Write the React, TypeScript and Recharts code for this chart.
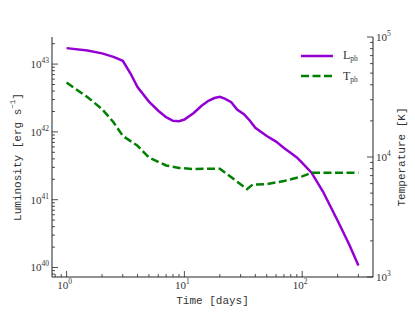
import React from "react";
import { ComposedChart, Line, XAxis, YAxis, Legend } from "recharts";

// photospheric luminosity (erg/s) vs time (days)
const lumDays = [1, 1.5, 2, 2.5, 3, 3.5, 4, 5, 6, 7, 8, 9, 10, 12, 14, 16, 18, 20, 22, 25, 28, 32, 36, 40, 50, 60, 70, 80, 90, 100, 120, 150, 200, 250, 300];
const lumValues = [
  1.72e43, 1.59e43, 1.44e43, 1.28e43, 1.12e43, 7.2e42, 4.6e42, 2.8e42, 2.05e42, 1.65e42, 1.46e42, 1.44e42,
  1.52e42, 1.9e42, 2.43e42, 2.88e42, 3.16e42, 3.3e42, 3.1e42, 2.75e42, 2.14e42, 1.82e42, 1.46e42, 1.15e42,
  8.7e41, 7.2e41, 5.8e41, 4.9e41, 4.2e41, 3.5e41, 2.5e41, 1.32e41, 4.9e40, 2.2e40, 1.07e40,
];

// photospheric temperature (K) vs time (days)
const tempDays = [1, 1.5, 2, 2.5, 3, 4, 5, 6, 7, 9, 12, 16, 20, 34, 38, 50, 70, 100, 120, 300];
const tempValues = [41700, 31600, 25100, 19500, 15000, 12400, 9900, 9100, 8500, 8100, 7940, 8000, 8000, 5400, 5900, 5950, 6300, 6900, 7400, 7400];

const timeDecades = [1, 10, 100];
const lumDecades = [1e40, 1e41, 1e42, 1e43];
const tempDecades = [1e3, 1e4, 1e5];

const timeDomain = [0.752, 399];
const lumDomain = [7.24e39, 2.51e43];
const tempDomain = [1e3, 1e5];

const lumData = lumDays.map((t, i) => ({ t, L: lumValues[i] }));
const tempData = tempDays.map((t, i) => ({ t, T: tempValues[i] }));

const PURPLE = "#9400d3";
const GREEN = "#008000";
const INK = "#222";
const TEXT = "#333";
const SERIF = "'Liberation Serif', 'DejaVu Serif', serif";
const MONO = "'Liberation Mono', 'DejaVu Sans Mono', monospace";

// majors plus 2..9 minors inside the domain
const withMinors = (decades: number[], domain: number[]) => {
  const out: number[] = [];
  const lo = Math.floor(Math.log10(domain[0]));
  const hi = Math.ceil(Math.log10(domain[1]));
  for (let e = lo; e <= hi; e++) {
    for (let m = 1; m < 10; m++) {
      const v = m * Math.pow(10, e);
      if (v >= domain[0] * 0.9999 && v <= domain[1] * 1.0001) out.push(v);
    }
  }
  decades.forEach((d) => {
    if (!out.includes(d)) out.push(d);
  });
  return out.sort((a, b) => a - b);
};

const isMajor = (v: number) => {
  const l = Math.log10(v);
  return Math.abs(l - Math.round(l)) < 1e-6;
};

const Pow = ({ x, y, v, anchor }: any) => (
  <text x={x} y={y} textAnchor={anchor} fontFamily={SERIF} fontSize={11} fill={TEXT}>
    10
    <tspan dy={-5} fontSize={7.5}>
      {Math.round(Math.log10(v))}
    </tspan>
  </text>
);

const BottomTick = ({ x, y, payload }: any) => {
  const major = isMajor(payload.value);
  return (
    <g>
      <line x1={x} x2={x} y1={y} y2={y - (major ? 6 : 3)} stroke={INK} strokeWidth={0.8} />
      {major && <Pow x={x - 2} y={y + 12} v={payload.value} anchor="middle" />}
    </g>
  );
};

const TopTick = ({ x, y, payload }: any) => {
  const major = isMajor(payload.value);
  return <line x1={x} x2={x} y1={y} y2={y + (major ? 6 : 3)} stroke={INK} strokeWidth={0.8} />;
};

const LeftTick = ({ x, y, payload }: any) => {
  const major = isMajor(payload.value);
  return (
    <g>
      <line x1={x} x2={x + (major ? 6 : 3)} y1={y} y2={y} stroke={INK} strokeWidth={0.8} />
      {major && <Pow x={x - 3} y={y + 4} v={payload.value} anchor="end" />}
    </g>
  );
};

const RightTick = ({ x, y, payload }: any) => {
  const major = isMajor(payload.value);
  return (
    <g>
      <line x1={x} x2={x - (major ? 6 : 3)} y1={y} y2={y} stroke={INK} strokeWidth={0.8} />
      {major && <Pow x={x + 3} y={y + 4} v={payload.value} anchor="start" />}
    </g>
  );
};

const legendItems: Record<string, { base: string; sub: string; dash?: string }> = {
  L: { base: "L", sub: "ph" },
  T: { base: "T", sub: "ph", dash: "8 3.5" },
};

const LegendBox = ({ payload }: any) => (
  <div>
    {(payload || []).map((entry: any) => {
      const item = legendItems[entry.dataKey];
      return (
        <div key={entry.dataKey} style={{ display: "flex", alignItems: "center", height: 20.6 }}>
          <svg width={32} height={8} style={{ marginRight: 10 }}>
            <line x1={0} x2={32} y1={4} y2={4} stroke={entry.color} strokeWidth={2.5} strokeDasharray={item.dash} />
          </svg>
          <span style={{ fontFamily: SERIF, fontSize: 12, color: TEXT }}>
            {item.base}
            <sub style={{ fontSize: 7.5, verticalAlign: "-2px" }}>{item.sub}</sub>
          </span>
        </div>
      );
    })}
  </div>
);

const LeftLabel = ({ viewBox }: any) => {
  const cx = viewBox.x + 18;
  const cy = viewBox.y + viewBox.height / 2;
  return (
    <text x={cx} y={cy} transform={`rotate(-90 ${cx} ${cy})`} textAnchor="middle" dominantBaseline="central" fontFamily={MONO} fontSize={11} fill={TEXT}>
      Luminosity [erg s
      <tspan dy={-5} fontSize={7.5}>−1</tspan>
      <tspan dy={5}>]</tspan>
    </text>
  );
};

const RightLabel = ({ viewBox }: any) => {
  const cx = viewBox.x + 29;
  const cy = viewBox.y + viewBox.height / 2;
  return (
    <text x={cx} y={cy} transform={`rotate(-90 ${cx} ${cy})`} textAnchor="middle" dominantBaseline="central" fontFamily={MONO} fontSize={11} fill={TEXT}>
      Temperature [K]
    </text>
  );
};

const BottomLabel = ({ viewBox }: any) => (
  <text x={viewBox.x + viewBox.width / 2} y={viewBox.y + 27} textAnchor="middle" fontFamily={MONO} fontSize={11} fill={TEXT}>
    Time [days]
  </text>
);

export default function App() {
  return (
    <div style={{ position: "absolute", left: 0, top: 0, width: 415, height: 312, background: "#fff" }}>
      <ComposedChart width={415} height={312} margin={{ top: 37, right: 0, bottom: 0, left: 0 }}>
        <XAxis
          xAxisId="bottom"
          type="number"
          dataKey="t"
          scale="log"
          domain={timeDomain}
          allowDataOverflow
          ticks={withMinors(timeDecades, timeDomain)}
          interval={0}
          tick={<BottomTick />}
          tickLine={false}
          tickSize={0}
          tickMargin={0}
          height={35}
          axisLine={{ stroke: INK, strokeWidth: 1 }}
          label={<BottomLabel />}
        />
        <XAxis
          xAxisId="top"
          orientation="top"
          type="number"
          dataKey="t"
          scale="log"
          domain={timeDomain}
          allowDataOverflow
          ticks={withMinors(timeDecades, timeDomain)}
          interval={0}
          tick={<TopTick />}
          tickLine={false}
          tickSize={0}
          tickMargin={0}
          height={0}
          axisLine={{ stroke: INK, strokeWidth: 1 }}
        />
        <YAxis
          yAxisId="lum"
          type="number"
          scale="log"
          domain={lumDomain}
          allowDataOverflow
          ticks={withMinors(lumDecades, lumDomain)}
          interval={0}
          tick={<LeftTick />}
          tickLine={false}
          tickSize={0}
          tickMargin={0}
          width={52}
          axisLine={{ stroke: INK, strokeWidth: 1 }}
          label={<LeftLabel />}
        />
        <YAxis
          yAxisId="temp"
          orientation="right"
          type="number"
          scale="log"
          domain={tempDomain}
          allowDataOverflow
          ticks={withMinors(tempDecades, tempDomain)}
          interval={0}
          tick={<RightTick />}
          tickLine={false}
          tickSize={0}
          tickMargin={0}
          width={42}
          axisLine={{ stroke: INK, strokeWidth: 1 }}
          label={<RightLabel />}
        />
        <Legend
          layout="vertical"
          align="center"
          verticalAlign="middle"
          content={<LegendBox />}
          wrapperStyle={{ left: 301, top: 45.5, width: 70, height: 45 }}
        />
        <Line
          data={lumData}
          xAxisId="bottom"
          yAxisId="lum"
          dataKey="L"
          name="L"
          type="linear"
          stroke={PURPLE}
          strokeWidth={2.5}
          dot={false}
          isAnimationActive={false}
        />
        <Line
          data={tempData}
          xAxisId="bottom"
          yAxisId="temp"
          dataKey="T"
          name="T"
          type="linear"
          stroke={GREEN}
          strokeWidth={2.5}
          strokeDasharray="8 3.5"
          dot={false}
          isAnimationActive={false}
        />
      </ComposedChart>
    </div>
  );
}
